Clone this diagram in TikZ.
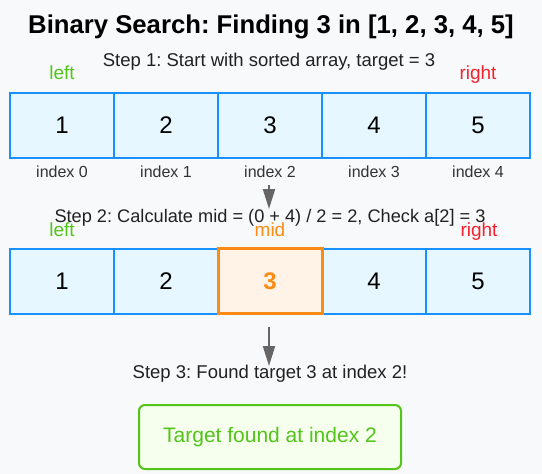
\documentclass[tikz,border=0pt]{standalone}
\usepackage{fontspec}
\setmainfont{Liberation Sans}
\usetikzlibrary{arrows.meta}
\frenchspacing

\definecolor{bgcol}{HTML}{F8F9FA}
\definecolor{cellblue}{HTML}{1890FF}
\definecolor{cellfill}{HTML}{E6F7FF}
\definecolor{midorange}{HTML}{FA8C16}
\definecolor{midfill}{HTML}{FFF2E6}
\definecolor{okgreen}{HTML}{52C41A}
\definecolor{okfill}{HTML}{F6FFED}
\definecolor{ptrred}{HTML}{F5222D}
\definecolor{arrowgray}{HTML}{666666}

\tikzset{
  cell/.style={draw=cellblue, fill=cellfill, line width=2pt,
    minimum width=104pt, minimum height=65pt, inner sep=0pt,
    font=\fontsize{24}{28}\selectfont},
  midcell/.style={cell, draw=midorange, fill=midfill, line width=3pt,
    text=midorange, font=\fontsize{24}{28}\selectfont\bfseries},
  steptext/.style={anchor=base, inner sep=0pt, font=\fontsize{18.5}{22}\selectfont, text=black!87},
  idxtext/.style={anchor=base, inner sep=0pt, font=\fontsize{16}{19}\selectfont, text=black!80},
  ptrtext/.style={anchor=base, inner sep=0pt, font=\fontsize{19}{22}\selectfont},
  flow/.style={draw=arrowgray, line width=2pt,
    -{Triangle[width=12pt,length=20pt]}}
}

\begin{document}
\begin{tikzpicture}[x=1pt, y=-1pt]
        \fill[bgcol] (0,0) rectangle (542,474);
        \useasboundingbox (0,0) rectangle (542,474);
        % title and step 1
        \node[anchor=base, inner sep=0pt] (title) at (271,33) {\fontsize{25.7}{30}\selectfont\bfseries Binary Search: Finding 3 in [1, 2, 3, 4, 5]};
        \node[steptext] (s1) at (269,66) {Step 1: Start with sorted array, target = 3};
        \node[ptrtext, text=okgreen] (left1) at (62,79.5) {left};
        \node[ptrtext, text=ptrred] (right1) at (478,79.5) {right};
        % first array
        \node[cell] (a11) at (62,125) {1};
        \node[cell] (a12) at (166,125) {2};
        \node[cell] (a13) at (270,125) {3};
        \node[cell] (a14) at (374,125) {4};
        \node[cell] (a15) at (478,125) {5};
        \node[idxtext] (i0) at (62,177) {index 0};
        \node[idxtext] (i1) at (166,177) {index 1};
        \node[idxtext] (i2) at (270,177) {index 2};
        \node[idxtext] (i3) at (374,177) {index 3};
        \node[idxtext] (i4) at (478,177) {index 4};
        % step 2
        \node[steptext, font=\fontsize{18.2}{22}\selectfont] (s2) at (270,222) {Step 2: Calculate mid = (0 + 4) / 2 = 2, Check a[2] = 3};
        \node[ptrtext, text=okgreen] (left2) at (62,236) {left};
        \node[ptrtext, text=midorange] (mid2) at (270,236) {mid};
        \node[ptrtext, text=ptrred] (right2) at (479,236) {right};
        \node[cell] (a21) at (62,281) {1};
        \node[cell] (a22) at (166,281) {2};
        \node[cell] (a24) at (374,281) {4};
        \node[cell] (a25) at (478,281) {5};
        \node[midcell] (a23) at (270,281) {3};
        % step 3
        \node[steptext] (s3) at (270,378) {Step 3: Found target 3 at index 2!};
        \node[draw=okgreen, fill=okfill, line width=2pt, rounded corners=6pt,
              minimum width=262pt, minimum height=64pt,
              text=okgreen, font=\fontsize{21}{25}\selectfont] (found) at (270,437) {Target found at index 2};
        % arrows
        \coordinate (a1s) at (269,185);
        \coordinate (a1e) at (269,209);
        \coordinate (a2s) at (269,327);
        \coordinate (a2e) at (269,366);
        \draw[flow] (a1s) -- (a1e);
        \draw[flow] (a2s) -- (a2e);
\end{tikzpicture}
\end{document}
